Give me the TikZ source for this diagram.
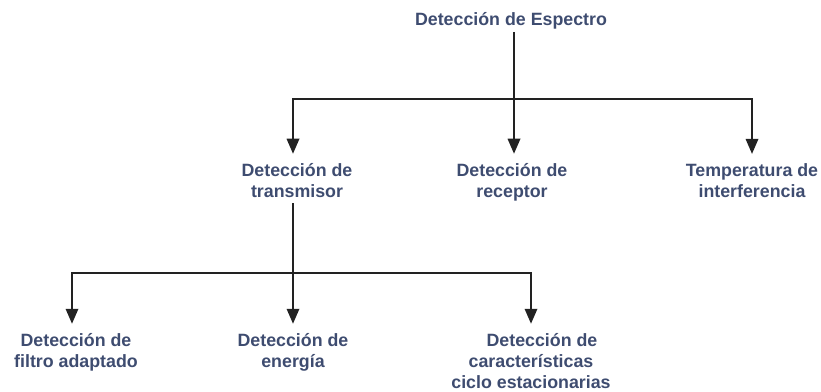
\documentclass[tikz,border=0pt]{standalone}
\usepackage{fontspec}
\setmainfont{Liberation Sans}
\usetikzlibrary{arrows.meta}
\definecolor{txtc}{RGB}{62,76,112}
\definecolor{linec}{RGB}{34,34,34}
\begin{document}
\begin{tikzpicture}[x=1pt,y=-1pt,
  lbl/.style={inner sep=0pt, align=center, anchor=base, text=txtc,
    font=\fontsize{17.8}{21}\selectfont\bfseries},
  ln/.style={draw=linec, line width=1.8pt},
  arr/.style={ln, -{Triangle[length=15pt,width=12.5pt]}, shorten >=9pt}]
\useasboundingbox (0,0) rectangle (821,391);
% nodes (anchor base = baseline of last line)
\node[lbl] (title) at (511,25) {Detección de Espectro};
\node[lbl] (tx) at (297,197) {Detección de\\transmisor};
\node[lbl] (rx) at (512,197) {Detección de\\receptor};
\node[lbl] (temp) at (752,197) {Temperatura de\\interferencia};
\node[lbl] (fil) at (76,367) {Detección de\\filtro adaptado};
\node[lbl] (ene) at (293,367) {Detección de\\energía};
\node[lbl] (car) at (531,388) {\hspace*{22pt}Detección de\\características\\ciclo estacionarias};
% junctions
\coordinate (j1) at (514,99);
\coordinate (j2) at (293,273);
% level 1 connectors
\draw[ln] ([yshift=-3pt]title.south -| j1) -- (j1);
\draw[arr] (j1) -| ([xshift=-4pt]tx.north);
\draw[arr] (j1) -- (j1 |- rx.north);
\draw[arr] (j1) -| (temp.north);
% level 2 connectors
\draw[ln] ([yshift=-6pt]tx.south -| j2) -- (j2);
\draw[arr] (j2) -| ([xshift=-4pt]fil.north);
\draw[arr] (j2) -- (j2 |- ene.north);
\draw[arr] (j2) -| (car.north);
\end{tikzpicture}
\end{document}
